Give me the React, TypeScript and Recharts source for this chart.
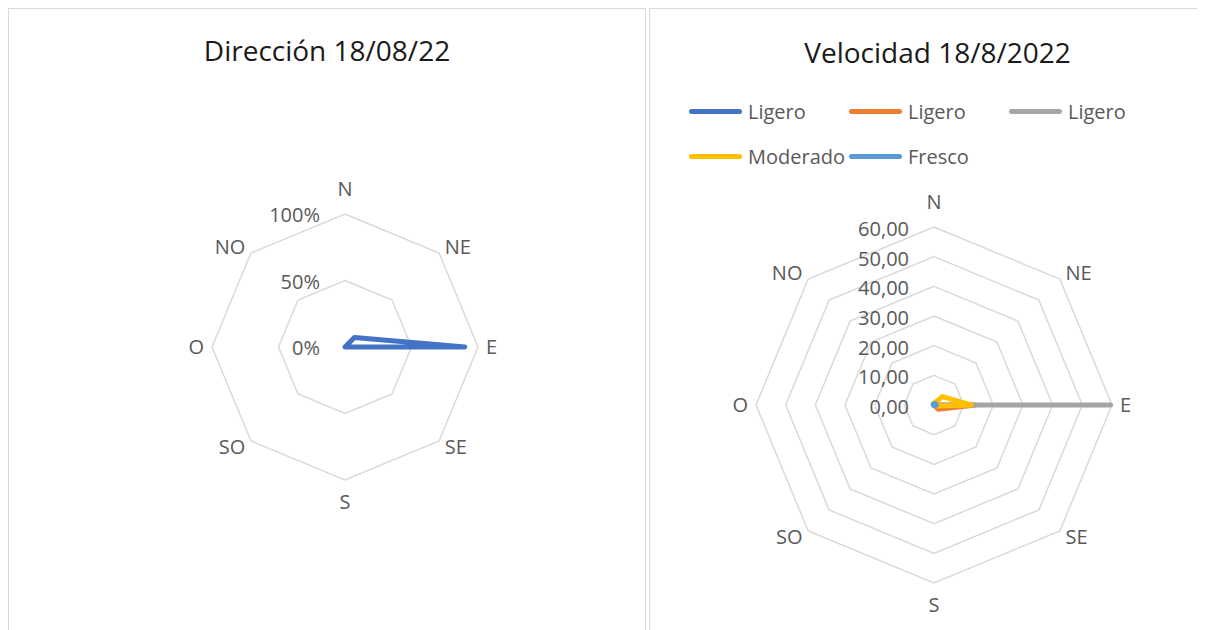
import {
  RadarChart,
  PolarGrid,
  PolarAngleAxis,
  PolarRadiusAxis,
  Radar,
} from "recharts";

const FONT = "'Open Sans', 'Noto Sans', sans-serif";

// rumbos, en sentido horario desde el norte
const directions = ["N", "NE", "E", "SE", "S", "SO", "O", "NO"];

// Dirección: porcentaje del día por rumbo
const direccionPct = [0, 10, 90, 0, 0, 0, 0, 0];
const direccionTicks = [0, 50, 100];

// Velocidad por rumbo y por tipo de viento
const ligeroA = [0, 0, 0, 0, 0, 0, 0, 0];
const ligeroB = [0, 0, 14, 2, 0, 0, 0, 0];
const ligeroC = [0, 0, 59.5, 0, 0, 0, 0, 0];
const moderado = [0.5, 4, 12.5, 0.5, 0, 0, 0, 0];
const fresco = [0.5, 0.6, 0.8, 0.4, 0.2, 0.2, 0.3, 0.4];
const velocidadTicks = [0, 10, 20, 30, 40, 50, 60];

const velocidadSeries = [
  { key: "ligeroA", name: "Ligero", color: "#4472C4", values: ligeroA },
  { key: "ligeroB", name: "Ligero", color: "#ED7D31", values: ligeroB },
  { key: "ligeroC", name: "Ligero", color: "#A5A5A5", values: ligeroC },
  { key: "moderado", name: "Moderado", color: "#FFC000", values: moderado },
  { key: "fresco", name: "Fresco", color: "#5B9BD5", values: fresco },
];

const direccionData = directions.map((dir, i) => ({ dir, pct: direccionPct[i] }));

const velocidadData = directions.map((dir, i) => {
  const row: Record<string, any> = { dir };
  velocidadSeries.forEach((s) => {
    row[s.key] = s.values[i];
  });
  return row;
});

const AngleTick = (props: any) => {
  const { x, y, payload, textAnchor } = props;
  const s = Math.sin(((payload?.coordinate ?? 0) * Math.PI) / 180);
  let dy = 7;
  if (s > 0.99) dy = -10;
  else if (s < -0.99) dy = 21;
  return (
    <text
      x={x}
      y={y}
      dy={dy}
      textAnchor={textAnchor}
      fill="#595959"
      fontSize={20}
      fontFamily={FONT}
    >
      {payload.value}
    </text>
  );
};

const radiusTick = (fmt: (v: number) => string, dy: number) => (props: any) => {
  const { x, y, payload } = props;
  return (
    <text
      x={x - 25}
      y={y}
      dy={dy}
      textAnchor="end"
      fill="#595959"
      fontSize={20}
      fontFamily={FONT}
    >
      {fmt(payload.value)}
    </text>
  );
};

const pctFmt = (v: number) => `${v}%`;
const speedFmt = (v: number) => v.toFixed(2).replace(".", ",");

const panelStyle: React.CSSProperties = {
  position: "relative",
  flex: "none",
  height: 640,
  border: "1px solid #d9d9d9",
  background: "#fff",
  overflow: "hidden",
};

const titleStyle: React.CSSProperties = {
  position: "absolute",
  top: 24,
  left: 0,
  width: "100%",
  textAlign: "center",
  fontFamily: FONT,
  fontSize: 28,
  lineHeight: "34px",
  color: "#1a1a1a",
};

export default function App() {
  return (
    <div style={{ display: "flex", width: 1197, overflow: "hidden" }}>
      <div style={{ ...panelStyle, width: 636 }}>
        <div style={titleStyle}>Dirección 18/08/22</div>
        <div style={{ position: "absolute", left: 0, top: 0 }}>
          <RadarChart
            width={636}
            height={630}
            data={direccionData}
            cx={336}
            cy={338}
            outerRadius={133}
            margin={{ top: 0, right: 0, bottom: 0, left: 0 }}
          >
            <PolarGrid gridType="polygon" radialLines={false} stroke="#d9d9d9" strokeWidth={1.5} />
            <PolarAngleAxis dataKey="dir" tick={AngleTick} tickLine={false} axisLine={false} />
            <PolarRadiusAxis
              angle={90}
              domain={[0, 100]}
              ticks={direccionTicks as any}
              axisLine={false}
              tickLine={false}
              tick={radiusTick(pctFmt, 8)}
            />
            <Radar
              dataKey="pct"
              stroke="#4472C4"
              strokeWidth={5}
              strokeLinejoin="round"
              fill="none"
              dot={false}
              isAnimationActive={false}
            />
          </RadarChart>
        </div>
      </div>
      <div style={{ ...panelStyle, width: 575, marginLeft: 3 }}>
        <div style={{ ...titleStyle, top: 26 }}>Velocidad 18/8/2022</div>
        <div
          style={{
            position: "absolute",
            top: 80,
            left: 39,
            width: 520,
            display: "grid",
            gridTemplateColumns: "160px 160px 160px",
            fontFamily: FONT,
            fontSize: 20,
            color: "#595959",
            zIndex: 2,
          }}
        >
          {velocidadSeries.map((s) => (
            <div key={s.key} style={{ display: "flex", alignItems: "center", height: 45 }}>
              <span
                style={{
                  display: "inline-block",
                  width: 53,
                  height: 5,
                  borderRadius: 3,
                  background: s.color,
                  marginRight: 6,
                }}
              />
              <span>{s.name}</span>
            </div>
          ))}
        </div>
        <div style={{ position: "absolute", left: 0, top: 0 }}>
          <RadarChart
            width={575}
            height={630}
            data={velocidadData}
            cx={284}
            cy={396}
            outerRadius={178}
            margin={{ top: 0, right: 0, bottom: 0, left: 0 }}
          >
            <PolarGrid gridType="polygon" radialLines={false} stroke="#d9d9d9" strokeWidth={1.5} />
            <PolarAngleAxis dataKey="dir" tick={AngleTick} tickLine={false} axisLine={false} />
            <PolarRadiusAxis
              angle={90}
              domain={[0, 60]}
              ticks={velocidadTicks as any}
              axisLine={false}
              tickLine={false}
              tick={radiusTick(speedFmt, 9)}
            />
            {velocidadSeries.map((s) => (
              <Radar
                key={s.key}
                name={s.name}
                dataKey={s.key}
                stroke={s.color}
                strokeWidth={5}
                strokeLinejoin="round"
                strokeLinecap="round"
                fill="none"
                dot={false}
                isAnimationActive={false}
              />
            ))}
          </RadarChart>
        </div>
      </div>
    </div>
  );
}
